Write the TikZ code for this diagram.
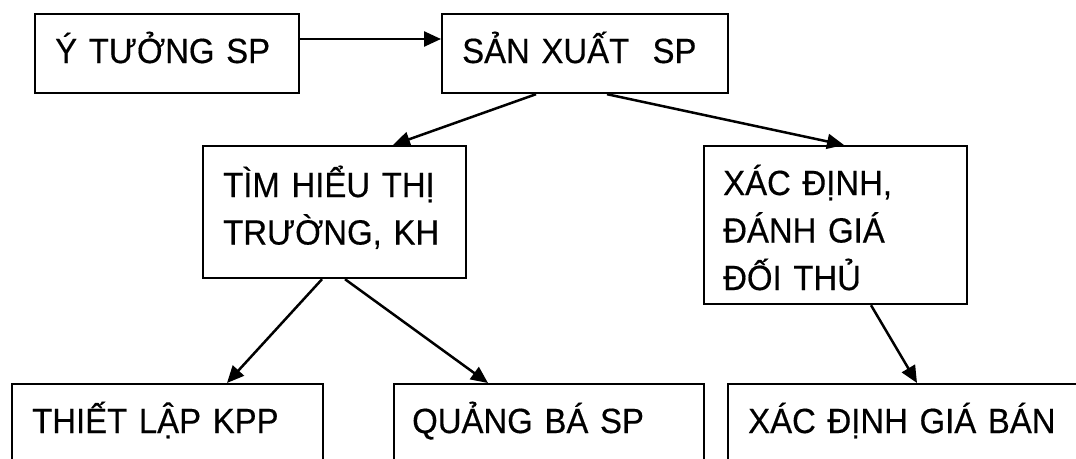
\documentclass[tikz,border=0pt]{standalone}
\usepackage{fontspec}
\setmainfont{Liberation Sans}[FakeStretch=0.94,FakeBold=0.4]
\usetikzlibrary{arrows.meta,calc}
\begin{document}
\begin{tikzpicture}[x=1pt,y=-1pt,
  box/.style={draw=black,line width=2.2pt,anchor=north west,inner sep=0pt,fill=white},
  txt/.style={anchor=base west,inner sep=0pt,align=left,text width=400pt,
    font=\fontsize{35}{47.5}\selectfont},
  arr/.style={line width=2.5pt,-{Triangle[length=17pt,width=15pt]}}]
\useasboundingbox (0,0) rectangle (1076,458);
\clip (0,0) rectangle (1076,458);
\fill[white] (0,0) rectangle (1076,458);
% boxes
\node[box,minimum width=264pt,minimum height=79pt] (b1) at (34,13) {};
\node[box,minimum width=286pt,minimum height=79pt] (b2) at (441,13) {};
\node[box,minimum width=263pt,minimum height=132pt] (b3) at (202,145) {};
\node[box,minimum width=263pt,minimum height=158pt] (b4) at (703,145) {};
\node[box,minimum width=311pt,minimum height=110pt] (b5) at (11,383) {};
\node[box,minimum width=310pt,minimum height=110pt] (b6) at (393,383) {};
\node[box,minimum width=380pt,minimum height=110pt] (b7) at (727,383) {};
% texts
\node[txt] (t1) at ([shift={(21,50)}]b1.north west) {Ý TƯỞNG SP};
\node[txt] (t2) at ([shift={(21,50)}]b2.north west) {SẢN XUẤT\ \ SP};
\node[txt] (t3) at ([shift={(21,52)}]b3.north west) {TÌM HIỂU THỊ\\TRƯỜNG, KH};
\node[txt] (t4) at ([shift={(20,50)}]b4.north west) {XÁC ĐỊNH,\\ĐÁNH GIÁ\\ĐỐI THỦ};
\node[txt] (t5) at ([shift={(21,50)}]b5.north west) {THIẾT LẬP KPP};
\node[txt] (t6) at ([shift={(19,50)}]b6.north west) {QUẢNG BÁ SP};
\node[txt] (t7) at ([shift={(21,50)}]b7.north west) {XÁC ĐỊNH GIÁ BÁN};
% connectors
\draw[arr] ([yshift=-26pt]b1.north east) -- ([yshift=-26pt]b2.north west);
\draw[arr] ([xshift=95pt]b2.south west) -- ([xshift=191pt]b3.north west);
\draw[arr] ([xshift=166pt]b2.south west) -- ([xshift=141pt]b4.north west);
\draw[arr] ([xshift=120pt]b3.south west) -- ([xshift=216pt]b5.north west);
\draw[arr] ([xshift=143pt]b3.south west) -- ([xshift=95pt]b6.north west);
\draw[arr] ([xshift=168pt]b4.south west) -- ([xshift=190pt]b7.north west);
\end{tikzpicture}
\end{document}
